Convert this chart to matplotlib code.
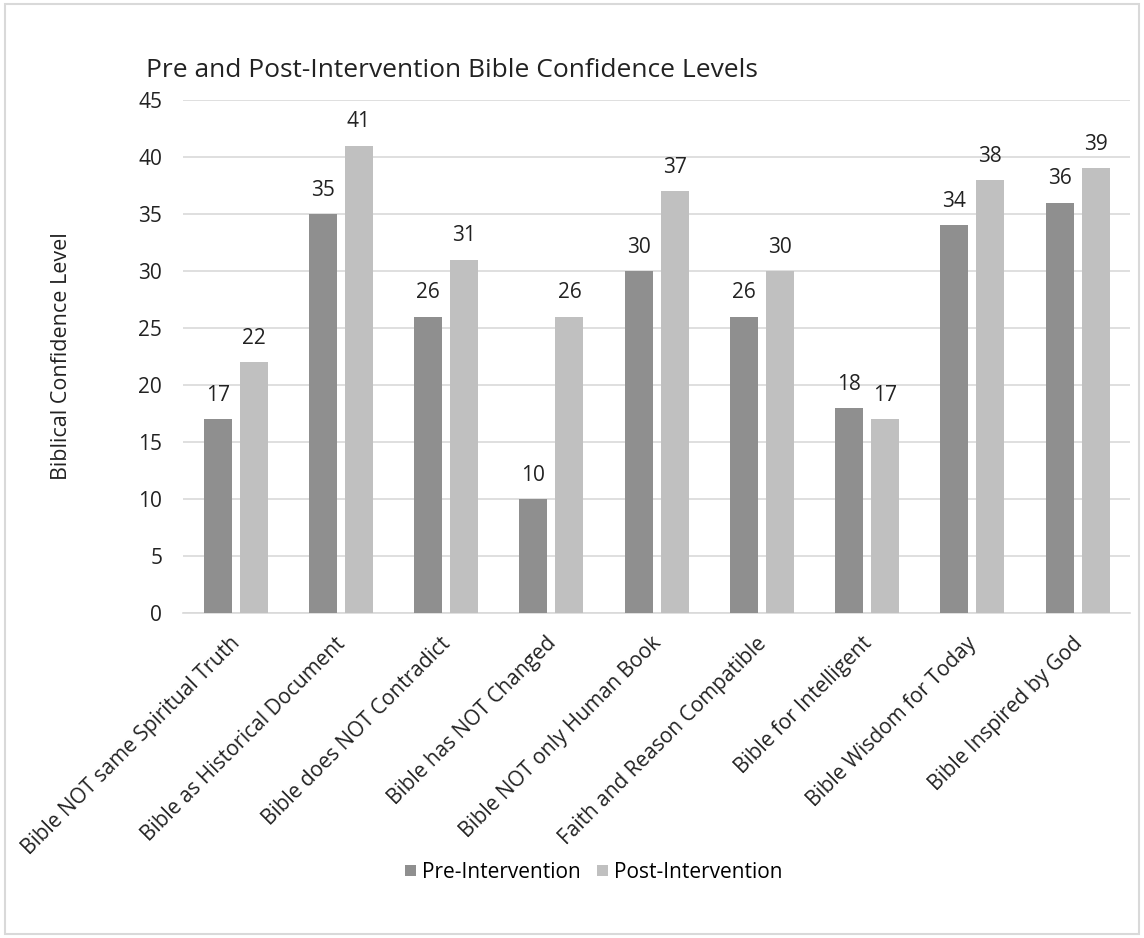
import numpy as np
import matplotlib.pyplot as plt
import matplotlib.transforms as mtransforms
from matplotlib.patches import Rectangle

categories = ['Bible NOT same Spiritual Truth', 'Bible as Historical Document',
              'Bible does NOT Contradict', 'Bible has NOT Changed',
              'Bible NOT only Human Book', 'Faith and Reason Compatible',
              'Bible for Intelligent', 'Bible Wisdom for Today', 'Bible Inspired by God']
pre = [17, 35, 26, 10, 30, 26, 18, 34, 36]
post = [22, 41, 31, 26, 37, 30, 17, 38, 39]

plt.rcParams['font.family'] = ['Open Sans', 'DejaVu Sans']

fig = plt.figure(figsize=(11.44, 9.38), dpi=100)
ax = fig.add_axes([0.160, 0.3465, 0.828, 0.547])

x = np.arange(len(categories))
w = 0.266
off = 0.171
b1 = ax.bar(x - off, pre, w, color='#8f8f8f', label='Pre-Intervention', zorder=3)
b2 = ax.bar(x + off, post, w, color='#c0c0c0', label='Post-Intervention', zorder=3)

# value labels above bars
for bars, vals in [(b1, pre), (b2, post)]:
    for bar, val in zip(bars, vals):
        ax.annotate(str(val), (bar.get_x() + bar.get_width() / 2, bar.get_height()),
                    xytext=(0, 13), textcoords='offset points',
                    ha='center', va='baseline', fontsize=15, color='#222222')

ax.set_xlim(-0.5, len(categories) - 0.5)
ax.set_ylim(0, 45)
ax.set_yticks(range(0, 46, 5))
ax.yaxis.grid(True, color='#d9d9d9', linewidth=1.2, zorder=0)
for s in ['top', 'right', 'left']:
    ax.spines[s].set_visible(False)
ax.spines['bottom'].set_color('#d9d9d9')
ax.spines['bottom'].set_linewidth(1.2)
ax.tick_params(length=0, labelsize=15, colors='#222222')
ax.tick_params(axis='y', pad=15)
ax.tick_params(axis='x', pad=8)
ax.set_xticks(x)
ax.set_xticklabels(categories, rotation=45, ha='right', rotation_mode='anchor')
shift = mtransforms.ScaledTranslation(-6 / 100, -9 / 100, fig.dpi_scale_trans)
for lbl in ax.get_xticklabels():
    lbl.set_transform(lbl.get_transform() + shift)
ax.set_ylabel('Biblical Confidence Level', fontsize=15.5, color='#222222', labelpad=48)

fig.text(0.128, 0.918, 'Pre and Post-Intervention Bible Confidence Levels',
         fontsize=19, color='#222222', ha='left', va='baseline')

fig.legend(handles=[b1, b2], loc='center', bbox_to_anchor=(0.519, 0.070), ncol=2,
           frameon=False, fontsize=15, handlelength=0.5, handleheight=0.5,
           columnspacing=0.8, handletextpad=0.3)

fig.patches.append(Rectangle((0.004, 0.004), 0.992, 0.992, transform=fig.transFigure,
                             fill=False, edgecolor='#d9d9d9', linewidth=1.5))

fig.savefig('out.png', dpi=100)
